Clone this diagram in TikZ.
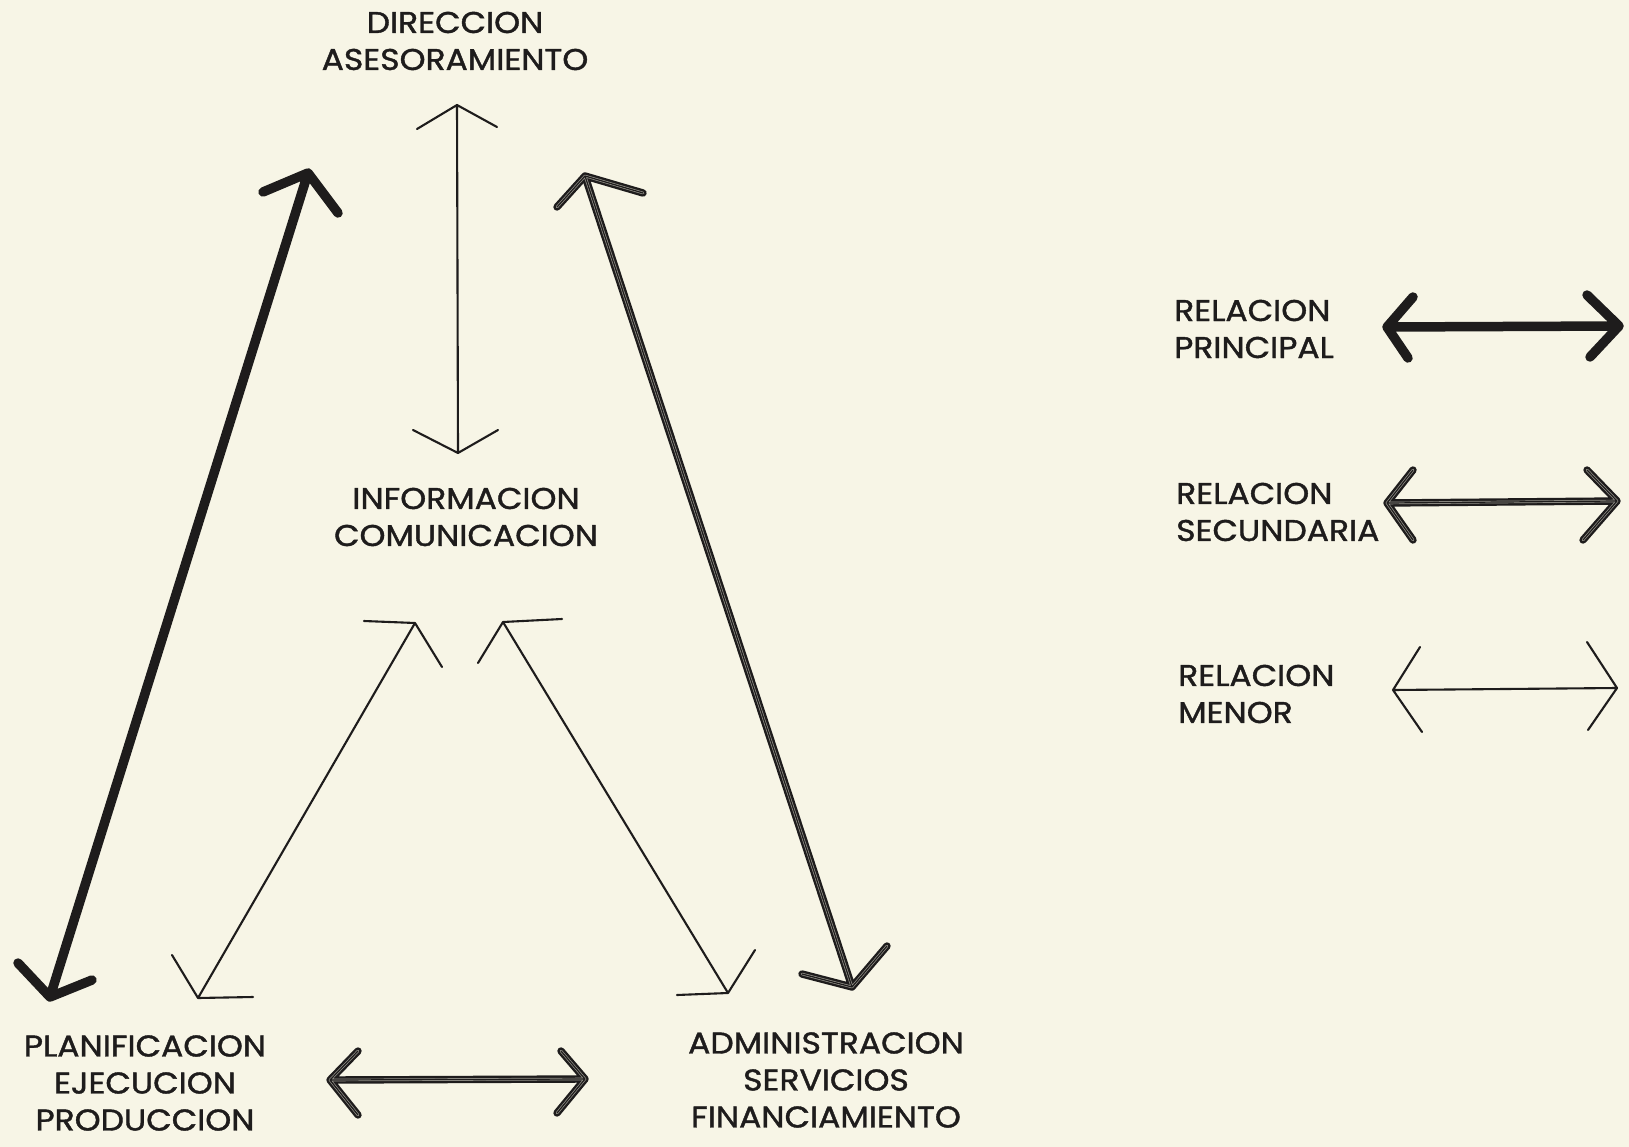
\documentclass[tikz,border=0pt]{standalone}
\usepackage{fontspec}
\setmainfont{Poppins}[FakeBold=1.3, FakeStretch=1.1]
\usetikzlibrary{calc}
\definecolor{paper}{RGB}{247,245,230}
\definecolor{ink}{RGB}{30,28,28}
\tikzset{
  principal/.style={draw=ink, line width=9.5pt, line cap=round, line join=round},
  secondary/.style={draw=ink, line width=2.4pt, double=ink!45!paper, double distance=2.6pt, line cap=round, line join=round},
  secondarymid/.style={draw=ink, line width=1.2pt, line cap=round, line join=round},
  minor/.style={draw=ink, line width=2.1pt, line cap=round, line join=round},
  label/.style={text=ink, font=\fontsize{30}{37}\selectfont, inner sep=0pt, align=center},
  legend/.style={label, align=left, anchor=west}
}
% shaft from #2 to #3, open heads at both ends given by barb offsets
\newcommand\relation[7]{%
  \draw[#1] (#2) -- (#3)
    ($(#2)+(#4)$) -- (#2) -- ($(#2)+(#5)$)
    ($(#3)+(#6)$) -- (#3) -- ($(#3)+(#7)$);}
\newcommand\secrelation[6]{%
  \relation{secondary}{#1}{#2}{#3}{#4}{#5}{#6}%
  \relation{secondarymid}{#1}{#2}{#3}{#4}{#5}{#6}}
\begin{document}
\begin{tikzpicture}[x=1pt, y=-1pt]
\fill[paper] (0,0) rectangle (1629,1147);
\useasboundingbox (0,0) rectangle (1629,1147);

% labels
\node[label] (dir) at (455,41) {DIRECCION\\ASESORAMIENTO};
\node[label] (inf) at (466,517) {INFORMACION\\COMUNICACION};
\node[label] (pla) at (145,1083) {PLANIFICACION\\EJECUCION\\PRODUCCION};
\node[label] (adm) at (826,1080) {ADMINISTRACION\\SERVICIOS\\FINANCIAMIENTO};
\node[legend] (lp) at (1174,329) {RELACION\\PRINCIPAL};
\node[legend] (ls) at (1176,512) {RELACION\\SECUNDARIA};
\node[legend] (lm) at (1178,694) {RELACION\\MENOR};

% arrow ends
\coordinate (ptop) at (308,173);
\coordinate (pbot) at (50,997);
\coordinate (stop) at (585,176);
\coordinate (sbot) at (852,987);
\coordinate (vtop) at (457,105);
\coordinate (vbot) at (458,453);
\coordinate (ltop) at (415,623);
\coordinate (lbot) at (198,998);
\coordinate (rtop) at (503,622);
\coordinate (rbot) at (728,993);
\coordinate (hl) at (330,1080);
\coordinate (hr) at (585,1079);
\coordinate (lpa) at (1387,327);
\coordinate (lpb) at (1619,326);
\coordinate (lsa) at (1387,503);
\coordinate (lsb) at (1617,501);
\coordinate (lma) at (1393,690);
\coordinate (lmb) at (1617,688);

% main relations
\relation{principal}{ptop}{pbot}{-45,19}{30,40}{-32,-34}{42,-17}
\secrelation{stop}{sbot}{-28,31}{58,17}{-50,-13}{35,-41}
\relation{minor}{vtop}{vbot}{-40,24}{40,22}{-45,-23}{40,-23}
\relation{minor}{ltop}{lbot}{-51,-2}{27,44}{-26,-43}{55,-1}
\relation{minor}{rtop}{rbot}{59,-3}{-25,41}{-51,2}{27,-43}
\secrelation{hl}{hr}{28,-29}{28,35}{-24,-28}{-28,34}

% legend
\relation{principal}{lpa}{lpb}{26,-30}{21,31}{-32,-31}{-29,31}
\secrelation{lsa}{lsb}{26,-33}{26,37}{-30,-31}{-34,39}
\relation{minor}{lma}{lmb}{27,-43}{29,42}{-30,-46}{-29,42}
\end{tikzpicture}
\end{document}
